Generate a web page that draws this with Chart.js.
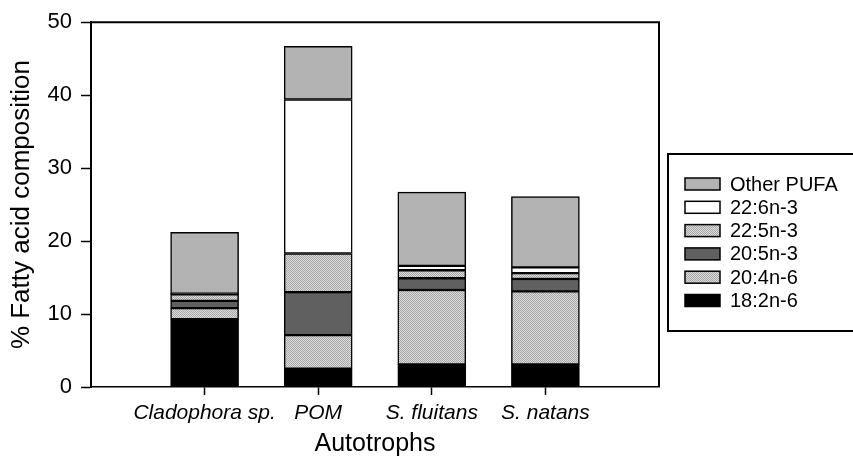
<!DOCTYPE html>
<html>
<head>
<meta charset="utf-8">
<script src="https://cdn.jsdelivr.net/npm/chart.js@4"></script>
<style>
html,body{margin:0;padding:0;background:#fff;}
#wrap{width:853px;height:457px;position:relative;}
</style>
</head>
<body>
<div id="wrap"><canvas id="c" width="853" height="457"></canvas></div>
<script>
// ---- data ----
const categories = ['Cladophora sp.', 'POM', 'S. fluitans', 'S. natans'];
const seriesNames = ['18:2n-6', '20:4n-6', '20:5n-3', '22:5n-3', '22:6n-3', 'Other PUFA'];
const v18_2n6 = [9.3, 2.5, 3.1, 3.1];
const v20_4n6 = [1.5, 4.6, 10.2, 10.0];
const v20_5n3 = [1.0, 5.9, 1.6, 1.7];
const v22_5n3 = [0.9, 5.3, 1.1, 0.8];
const v22_6n3 = [0.1, 21.1, 0.6, 0.8];
const vOtherPUFA = [8.4, 7.3, 10.1, 9.7];
const yTicks = [0, 10, 20, 30, 40, 50];

const FONT = "Arial, 'Liberation Sans', sans-serif";

function stipple(light, dark) {
  const c = document.createElement('canvas');
  c.width = 4; c.height = 4;
  const g = c.getContext('2d');
  g.fillStyle = light; g.fillRect(0, 0, 4, 4);
  g.fillStyle = dark;
  for (let y = 0; y < 4; y++) {
    for (let x = 0; x < 4; x++) {
      if ((x + y) % 2 === 0) g.fillRect(x, y, 1, 1);
    }
  }
  return g.createPattern(c, 'repeat');
}
const pat = stipple('#dcdcdc', '#a6a6a6');

const fills = ['#000000', pat, '#606060', pat, '#ffffff', '#b3b3b3'];
const allValues = [v18_2n6, v20_4n6, v20_5n3, v22_5n3, v22_6n3, vOtherPUFA];

// padded category axis: empty slot at each end
const labels = [''].concat(categories, ['']);
const pad = arr => [null].concat(arr, [null]);

const datasets = seriesNames.map((name, i) => ({
  label: name,
  data: pad(allValues[i]),
  backgroundColor: fills[i],
  borderColor: '#000',
  borderWidth: 1.5,
  borderSkipped: false,
  barThickness: 68,
  stack: 's'
}));

const frameAndLegend = {
  id: 'frameAndLegend',
  afterDraw(chart) {
    const ctx = chart.ctx;
    const a = chart.chartArea;
    ctx.save();
    ctx.strokeStyle = '#000';
    ctx.lineWidth = 2;
    ctx.beginPath();
    ctx.moveTo(a.left, a.top);
    ctx.lineTo(a.right, a.top);
    ctx.lineTo(a.right, a.bottom);
    ctx.stroke();
    // legend box
    ctx.strokeRect(668, 154, 200, 177);
    const ds = chart.data.datasets.slice().reverse();
    ctx.font = '20px ' + FONT;
    ctx.textBaseline = 'middle';
    ctx.textAlign = 'left';
    ds.forEach((d, k) => {
      const cy = 184 + k * 23.3;
      ctx.fillStyle = d.backgroundColor;
      ctx.fillRect(685, cy - 6, 35, 12);
      ctx.lineWidth = 1.5;
      ctx.strokeStyle = '#000';
      ctx.strokeRect(685, cy - 6, 35, 12);
      ctx.fillStyle = '#000';
      ctx.fillText(d.label, 730, cy + 1);
    });
    ctx.restore();
  }
};

new Chart(document.getElementById('c'), {
  type: 'bar',
  data: { labels: labels, datasets: datasets },
  options: {
    responsive: false,
    animation: false,
    devicePixelRatio: 1,
    layout: { padding: { top: 19, right: 194, left: 0, bottom: 0 } },
    plugins: { legend: { display: false }, tooltip: { enabled: false } },
    scales: {
      x: {
        stacked: true,
        offset: false,
        grid: {
          offset: false,
          drawOnChartArea: false,
          drawTicks: true,
          tickLength: 8,
          tickWidth: 1.5,
          tickColor: c => (c.index === 0 || c.index === labels.length - 1) ? 'rgba(0,0,0,0)' : '#000'
        },
        border: { display: true, color: '#000', width: 1.5 },
        ticks: { color: '#000', font: { family: FONT, size: 21, style: 'italic' }, padding: 6, maxRotation: 0, autoSkip: false },
        title: { display: true, text: 'Autotrophs', color: '#000', font: { family: FONT, size: 25, lineHeight: 1.0 }, padding: { top: 0, bottom: 0 } },
        afterFit: s => { s.height = 70; }
      },
      y: {
        stacked: true,
        min: 0,
        max: 50,
        afterBuildTicks: s => { s.ticks = yTicks.map(v => ({ value: v })); },
        grid: { drawOnChartArea: false, drawTicks: true, tickLength: 10, tickWidth: 1.5, tickColor: '#000' },
        border: { display: true, color: '#000', width: 2 },
        ticks: { color: '#000', font: { family: FONT, size: 22 }, padding: 9 },
        title: { display: true, text: '% Fatty acid composition', color: '#000', font: { family: FONT, size: 26, lineHeight: 1.1 }, padding: { top: 8, bottom: 0 } },
        afterFit: s => { s.width = 91; }
      }
    }
  },
  plugins: [frameAndLegend]
});
</script>
</body>
</html>
